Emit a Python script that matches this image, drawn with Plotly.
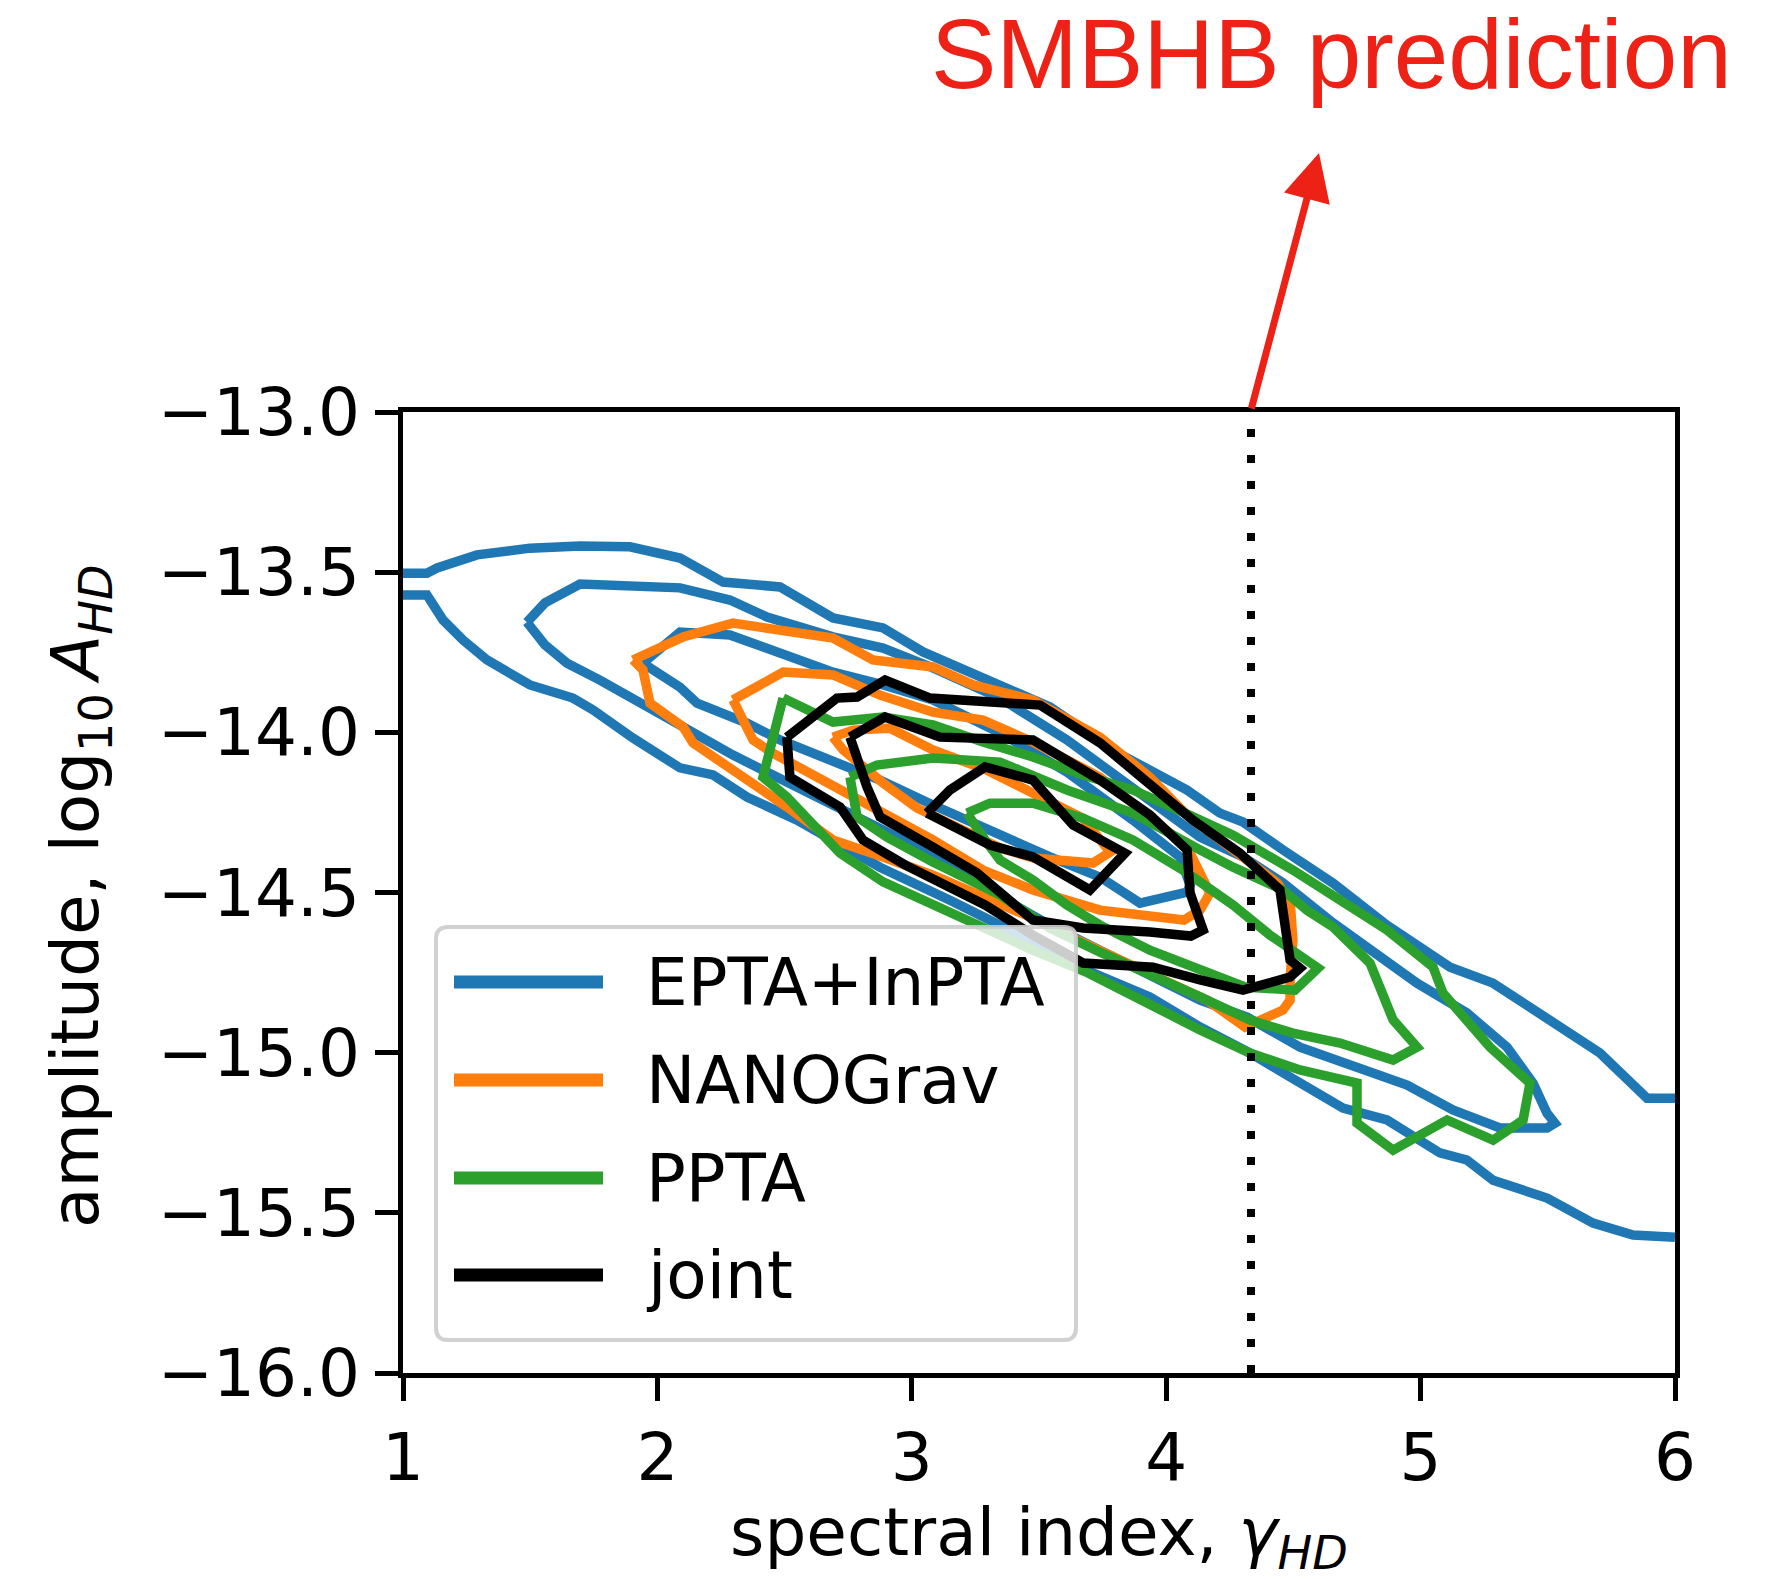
import plotly.graph_objects as go

# ---------------------------------------------------------------------------
# Data: credible-region contours in the (gamma, log10 A) plane
# ---------------------------------------------------------------------------
gamma_smbhb = 13.0 / 3.0   # SMBHB spectral index

labels = ["EPTA+InPTA", "NANOGrav", "PPTA", "joint"]
colors = ["#1f77b4", "#ff7f0e", "#2ca02c", "#000000"]

# EPTA+InPTA, outermost level leaves the box on both sides (two open edges)
epta_outer_top = [(1.000, -13.503), (1.094, -13.503), (1.134, -13.487), (1.291, -13.446),
                  (1.499, -13.425), (1.696, -13.418), (1.892, -13.421), (1.959, -13.431),
                  (2.089, -13.456), (2.258, -13.531), (2.482, -13.546), (2.690, -13.643),
                  (2.887, -13.674), (3.044, -13.749), (3.307, -13.837), (3.543, -13.921),
                  (3.811, -14.065), (4.082, -14.180), (4.211, -14.252), (4.302, -14.280),
                  (4.459, -14.367), (4.656, -14.471), (4.868, -14.602), (5.116, -14.733),
                  (5.285, -14.783), (5.509, -14.898), (5.705, -15.001), (5.890, -15.142),
                  (6.000, -15.142)]
epta_outer_bottom = [(1.000, -13.571), (1.094, -13.571), (1.157, -13.649), (1.236, -13.712),
                     (1.330, -13.774), (1.499, -13.852), (1.668, -13.893), (1.747, -13.930),
                     (1.904, -14.018), (2.089, -14.111), (2.219, -14.133), (2.352, -14.202),
                     (2.549, -14.274), (2.745, -14.361), (2.875, -14.421), (3.150, -14.524),
                     (3.347, -14.602), (3.543, -14.695), (3.807, -14.783), (3.936, -14.826),
                     (4.133, -14.920), (4.329, -15.001), (4.487, -15.076), (4.695, -15.173),
                     (4.868, -15.210), (5.076, -15.313), (5.182, -15.335), (5.285, -15.398),
                     (5.497, -15.454), (5.678, -15.532), (5.835, -15.569), (6.000, -15.576)]
epta_mid = [(1.487, -13.656), (1.558, -13.596), (1.696, -13.537), (1.892, -13.540),
            (2.089, -13.549), (2.285, -13.587), (2.431, -13.640), (2.690, -13.702),
            (2.887, -13.737), (3.083, -13.799), (3.347, -13.893), (3.610, -14.024),
            (3.869, -14.171), (4.133, -14.327), (4.302, -14.389), (4.459, -14.470),
            (4.656, -14.595), (4.829, -14.689), (4.986, -14.783), (5.182, -14.876),
            (5.340, -14.983), (5.442, -15.095), (5.497, -15.189), (5.528, -15.220),
            (5.497, -15.235), (5.312, -15.235), (5.127, -15.179), (4.947, -15.101),
            (4.695, -15.032), (4.526, -14.983), (4.318, -14.889), (4.133, -14.836),
            (3.936, -14.758), (3.740, -14.680), (3.543, -14.602), (3.347, -14.514),
            (3.083, -14.383), (2.887, -14.305), (2.690, -14.227), (2.494, -14.149),
            (2.297, -14.071), (2.101, -13.983), (1.904, -13.890), (1.774, -13.837),
            (1.645, -13.784), (1.558, -13.727)]
epta_inner = [(1.943, -13.784), (2.022, -13.727), (2.089, -13.687), (2.285, -13.696),
              (2.482, -13.752), (2.690, -13.812), (2.875, -13.849), (3.083, -13.899),
              (3.347, -14.002), (3.610, -14.124), (3.869, -14.274), (4.054, -14.389),
              (4.094, -14.477), (4.082, -14.499), (3.897, -14.533), (3.740, -14.452),
              (3.543, -14.389), (3.347, -14.321), (3.083, -14.227), (2.875, -14.149),
              (2.678, -14.086), (2.482, -14.024), (2.352, -13.971), (2.156, -13.909),
              (2.089, -13.859)]

# NANOGrav
nanograv_outer = [(1.904, -13.774), (2.101, -13.702), (2.297, -13.659), (2.690, -13.706),
                  (2.847, -13.774), (3.083, -13.796), (3.241, -13.852), (3.476, -13.899),
                  (3.740, -14.015), (3.936, -14.140), (4.082, -14.258), (4.302, -14.389),
                  (4.436, -14.470), (4.487, -14.524), (4.498, -14.648), (4.487, -14.773),
                  (4.487, -14.836), (4.459, -14.867), (4.310, -14.920), (4.160, -14.836),
                  (3.873, -14.733), (3.649, -14.648), (3.476, -14.580), (3.280, -14.514),
                  (3.083, -14.446), (2.887, -14.389), (2.690, -14.336), (2.509, -14.233),
                  (2.297, -14.118), (2.140, -14.033), (2.101, -13.983), (1.971, -13.909),
                  (1.943, -13.805)]
nanograv_mid = [(2.297, -13.899), (2.494, -13.812), (2.690, -13.821), (2.875, -13.884),
                (3.083, -13.937), (3.280, -13.962), (3.476, -14.030), (3.740, -14.140),
                (3.936, -14.264), (4.082, -14.358), (4.172, -14.502), (4.133, -14.555),
                (4.070, -14.586), (3.740, -14.555), (3.476, -14.492), (3.280, -14.430),
                (3.083, -14.336), (2.887, -14.252), (2.690, -14.174), (2.454, -14.065),
                (2.376, -14.024)]
nanograv_inner = [(2.690, -14.015), (2.769, -13.993), (2.914, -13.987), (3.083, -14.055),
                  (3.296, -14.118), (3.476, -14.190), (3.673, -14.268), (3.779, -14.374),
                  (3.712, -14.408), (3.476, -14.392), (3.347, -14.361), (3.217, -14.311),
                  (3.020, -14.236), (2.887, -14.158), (2.796, -14.102), (2.730, -14.055)]

# PPTA
ppta_outer = [(2.494, -13.893), (2.690, -13.968), (2.887, -13.952), (3.083, -13.977),
              (3.280, -14.030), (3.476, -14.077), (3.673, -14.133), (3.869, -14.180),
              (4.066, -14.249), (4.263, -14.321), (4.498, -14.430), (4.683, -14.524),
              (4.868, -14.617), (5.049, -14.733), (5.088, -14.814), (5.273, -14.983),
              (5.430, -15.095), (5.403, -15.210), (5.285, -15.273), (5.104, -15.210),
              (4.892, -15.304), (4.750, -15.220), (4.750, -15.095), (4.526, -15.054),
              (4.329, -15.001), (4.133, -14.929), (3.917, -14.845), (3.693, -14.751),
              (3.476, -14.680), (3.280, -14.608), (3.083, -14.533), (2.887, -14.467),
              (2.718, -14.377), (2.561, -14.243), (2.509, -14.202), (2.415, -14.140)]
ppta_mid = [(2.757, -14.140), (2.863, -14.102), (3.083, -14.080), (3.347, -14.093),
            (3.610, -14.180), (3.869, -14.252), (4.133, -14.367), (4.263, -14.421),
            (4.459, -14.492), (4.553, -14.555), (4.656, -14.608), (4.801, -14.720),
            (4.892, -14.898), (4.986, -14.983), (4.892, -15.023), (4.683, -14.970),
            (4.498, -14.939), (4.329, -14.898), (4.133, -14.826), (3.936, -14.758),
            (3.740, -14.686), (3.543, -14.611), (3.347, -14.508), (3.083, -14.405),
            (2.903, -14.327), (2.785, -14.264)]
ppta_inner = [(3.217, -14.252), (3.307, -14.221), (3.476, -14.221), (3.673, -14.268),
              (3.869, -14.336), (4.066, -14.430), (4.263, -14.539), (4.408, -14.633),
              (4.597, -14.736), (4.506, -14.805), (4.310, -14.795), (4.133, -14.742),
              (3.936, -14.680), (3.740, -14.602), (3.610, -14.539), (3.476, -14.461),
              (3.347, -14.399), (3.288, -14.336)]

# joint
joint_outer = [(2.509, -14.015), (2.706, -13.893), (2.785, -13.890), (2.895, -13.837),
               (3.072, -13.893), (3.504, -13.915), (3.740, -14.033), (4.105, -14.274),
               (4.290, -14.377), (4.447, -14.492), (4.487, -14.711), (4.526, -14.736),
               (4.487, -14.764), (4.302, -14.805), (4.133, -14.773), (3.948, -14.733),
               (3.673, -14.720), (3.476, -14.633), (3.288, -14.539), (3.138, -14.477),
               (2.973, -14.414), (2.808, -14.336), (2.718, -14.233), (2.521, -14.140)]
joint_mid = [(2.757, -14.015), (2.895, -13.952), (3.111, -14.015), (3.476, -14.024),
             (3.740, -14.149), (3.936, -14.258), (4.082, -14.367), (4.094, -14.502),
             (4.145, -14.617), (4.097, -14.636), (3.936, -14.623), (3.673, -14.611),
             (3.476, -14.586), (3.256, -14.439), (3.083, -14.358), (2.875, -14.264),
             (2.824, -14.171), (2.769, -14.040)]
joint_inner = [(3.060, -14.252), (3.150, -14.180), (3.288, -14.108), (3.476, -14.149),
               (3.634, -14.289), (3.838, -14.377), (3.700, -14.492), (3.476, -14.389),
               (3.307, -14.352)]

x_ticks = [1, 2, 3, 4, 5, 6]
y_ticks = [-16.0, -15.5, -15.0, -14.5, -14.0, -13.5, -13.0]


def closed(path):
    return path + [path[0]]


contour_sets = [
    [epta_outer_top, epta_outer_bottom, closed(epta_mid), closed(epta_inner)],
    [closed(nanograv_outer), closed(nanograv_mid), closed(nanograv_inner)],
    [closed(ppta_outer), closed(ppta_mid), closed(ppta_inner)],
    [closed(joint_outer), closed(joint_mid), closed(joint_inner)],
]

# ---------------------------------------------------------------------------
# Figure geometry (pixels)
# ---------------------------------------------------------------------------
FIG_W, FIG_H = 1789, 1579
M_L, M_R, M_T, M_B = 403, 114, 412, 206
PLOT_W = FIG_W - M_L - M_R
PLOT_H = FIG_H - M_T - M_B
FONT = "DejaVu Sans"
FS = 66


def paper_x(px):
    return (px - M_L) / PLOT_W


def paper_y(py):
    return (FIG_H - M_B - py) / PLOT_H


fig = go.Figure()

for label, color, paths in zip(labels, colors, contour_sets):
    xs, ys = [], []
    for p in paths:
        xs += [pt[0] for pt in p] + [None]
        ys += [pt[1] for pt in p] + [None]
    fig.add_trace(go.Scatter(x=xs, y=ys, mode="lines", name=label,
                             line=dict(color=color, width=9.5),
                             connectgaps=False, showlegend=False,
                             hoverinfo="skip"))

# dotted vertical line at the SMBHB spectral index
fig.add_trace(go.Scatter(x=[gamma_smbhb, gamma_smbhb], y=[y_ticks[0], y_ticks[-1]],
                         mode="lines", showlegend=False, hoverinfo="skip",
                         line=dict(color="black", width=8, dash="8px,18px")))

axis_common = dict(showgrid=False, zeroline=False, showline=True, linecolor="black",
                   linewidth=4.5, mirror=True, ticks="outside", ticklen=23,
                   tickwidth=4.5, tickcolor="black",
                   tickfont=dict(family=FONT, size=FS, color="black"))

fig.update_xaxes(range=[x_ticks[0], x_ticks[-1]], tickvals=x_ticks,
                 ticklabelstandoff=0, **axis_common)
fig.update_yaxes(range=[y_ticks[0], y_ticks[-1]], tickvals=y_ticks,
                 tickformat=".1f", ticklabelstandoff=2, **axis_common)

shapes = []
annotations = []

# legend frame (rounded, semi-transparent)
lx0, lx1 = paper_x(436), paper_x(1076)
ly0, ly1 = paper_y(1340), paper_y(927)
rx, ry = 12 / PLOT_W, 12 / PLOT_H
frame_path = (f"M {lx0 + rx},{ly0} L {lx1 - rx},{ly0} Q {lx1},{ly0} {lx1},{ly0 + ry} "
              f"L {lx1},{ly1 - ry} Q {lx1},{ly1} {lx1 - rx},{ly1} "
              f"L {lx0 + rx},{ly1} Q {lx0},{ly1} {lx0},{ly1 - ry} "
              f"L {lx0},{ly0 + ry} Q {lx0},{ly0} {lx0 + rx},{ly0} Z")
shapes.append(dict(type="path", path=frame_path, xref="paper", yref="paper",
                   fillcolor="rgba(255,255,255,0.8)",
                   line=dict(color="rgba(204,204,204,0.9)", width=4), layer="above"))

row_y = [982, 1080, 1178, 1275]
for label, color, ypx in zip(labels, colors, row_y):
    shapes.append(dict(type="line", xref="paper", yref="paper",
                       x0=paper_x(454), x1=paper_x(603),
                       y0=paper_y(ypx), y1=paper_y(ypx),
                       line=dict(color=color, width=13), layer="above"))
    annotations.append(dict(text=label, xref="paper", yref="paper",
                            x=paper_x(644), y=paper_y(ypx), xanchor="left",
                            yanchor="middle", showarrow=False,
                            font=dict(family=FONT, size=FS, color="black")))

# axis titles
annotations.append(dict(text="spectral index, <i>γ</i><sub><i>HD</i></sub>",
                        xref="paper", yref="paper", x=0.5, y=paper_y(1492),
                        xanchor="center", yanchor="top", showarrow=False,
                        font=dict(family=FONT, size=FS, color="black")))
annotations.append(dict(text="amplitude, log<sub>10</sub>\u2009<i>A</i><sub><i>HD</i></sub>",
                        xref="paper", yref="paper", x=paper_x(80), y=paper_y(896),
                        xanchor="center", yanchor="middle", textangle=-90,
                        showarrow=False,
                        font=dict(family=FONT, size=FS, color="black")))

# SMBHB prediction call-out
RED = "#ED2115"
tail_x = M_L + (gamma_smbhb - x_ticks[0]) / (x_ticks[-1] - x_ticks[0]) * PLOT_W
tip_x, tip_y = 1319, 153
annotations.append(dict(text="", xref="paper", yref="paper",
                        x=paper_x(tip_x), y=paper_y(tip_y),
                        axref="pixel", ayref="pixel",
                        ax=tail_x - tip_x, ay=(M_T - 2) - tip_y,
                        showarrow=True, arrowhead=2, arrowsize=1.35,
                        arrowwidth=7, arrowcolor=RED, standoff=0))
annotations.append(dict(text="SMBHB prediction", xref="paper", yref="paper",
                        x=paper_x(929), y=paper_y(111), xanchor="left",
                        yanchor="bottom", showarrow=False,
                        font=dict(family="Liberation Sans", size=98, color=RED)))

fig.update_layout(width=FIG_W, height=FIG_H,
                  margin=dict(l=M_L, r=M_R, t=M_T, b=M_B, pad=0),
                  paper_bgcolor="white", plot_bgcolor="white",
                  showlegend=False, shapes=shapes, annotations=annotations)

fig.write_html("out.html")
